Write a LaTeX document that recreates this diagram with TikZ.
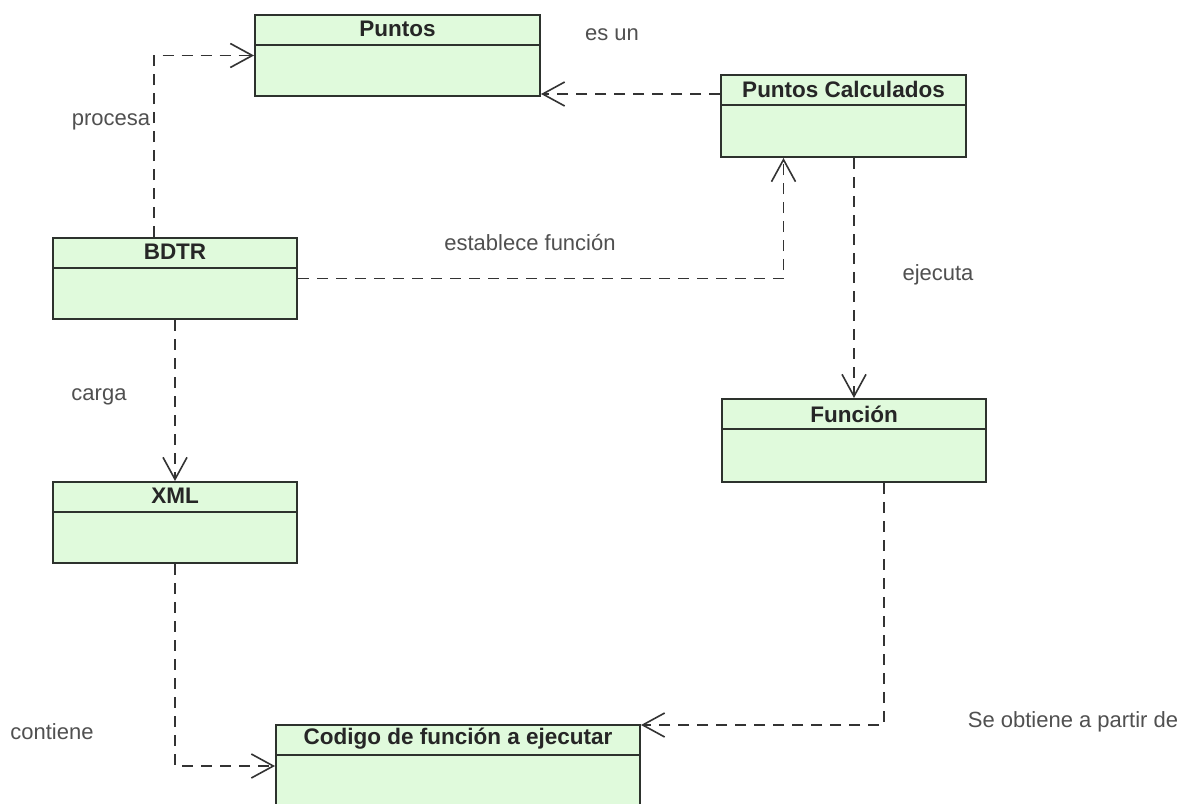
\documentclass[tikz,border=0pt]{standalone}
\usepackage{fontspec}
\setmainfont{Liberation Sans}
\usetikzlibrary{arrows.meta,calc}
\definecolor{clsfill}{RGB}{224,250,220}
\definecolor{clsline}{RGB}{45,50,45}
\definecolor{lbl}{RGB}{80,80,80}
\tikzset{
  cls/.style={draw=clsline, line width=2pt, fill=clsfill, anchor=north west, inner sep=0pt,
    path picture={\draw[clsline, line width=2pt]
      ([yshift=-30pt]path picture bounding box.north west) -- ([yshift=-30pt]path picture bounding box.north east);}},
  ttl/.style={font=\fontsize{22.5}{26}\selectfont\bfseries, text=black!85},
  lab/.style={font=\fontsize{22}{26}\selectfont, text=lbl},
  dep/.style={draw=black!80, line width=1.6pt, dash pattern=on 11pt off 8pt,
    -{Straight Barb[length=22pt,width=24pt,line width=1.6pt]}}
}
\begin{document}
\begin{tikzpicture}[x=1pt,y=-1pt]
\useasboundingbox (0,0) rectangle (1188,803);
\clip (0,0) rectangle (1188,803);
\fill[white] (0,0) rectangle (1188,803);
% classes
\node[cls, minimum width=285pt, minimum height=81pt] (pun) at (254,14) {};
\node[ttl] at ($(pun.north)+(0,15)$) {Puntos};
\node[cls, minimum width=245pt, minimum height=82pt] (pc) at (720,74) {};
\node[ttl] at ($(pc.north)+(0,15)$) {Puntos Calculados};
\node[cls, minimum width=244pt, minimum height=81pt] (bdtr) at (52,237) {};
\node[ttl] at ($(bdtr.north)+(0,15)$) {BDTR};
\node[cls, minimum width=264pt, minimum height=83pt] (fun) at (721,398) {};
\node[ttl] at ($(fun.north)+(0,16)$) {Función};
\node[cls, minimum width=244pt, minimum height=81pt] (xml) at (52,481) {};
\node[ttl] at ($(xml.north)+(0,15)$) {XML};
\node[cls, minimum width=364pt, minimum height=82pt] (cod) at (275,724) {};
\node[ttl] at ($(cod.north)+(0,15)$) {Codigo de función a ejecutar};
% connectors
\draw[dep] ([xshift=-21pt]bdtr.north) |- (pun.west);
\draw[dep] ([yshift=22pt]pc.west) -- ([yshift=22pt]pc.west -| pun.east);
\draw[dep] (bdtr.east) -| ([xshift=-60pt]pc.south);
\draw[dep] ([xshift=10.5pt]pc.south) -- ([xshift=10.5pt]pc.south |- fun.north);
\draw[dep] (bdtr.south) -- (xml.north);
\draw[dep] (xml.south) |- (cod.west);
\draw[dep] ([xshift=30pt]fun.south) |- ([yshift=-1pt]cod.north east);
% labels
\node[lab] (l1) at (612,35) {es un};
\node[lab] (l2) at (111,122) {procesa};
\node[lab] (l3) at (530,243) {establece función};
\node[lab] (l4) at (938,275) {ejecuta};
\node[lab] (l5) at (99,397) {carga};
\node[lab] (l6) at (52,732) {contiene};
\node[lab] (l7) at (1073,722) {Se obtiene a partir de};
\end{tikzpicture}
\end{document}
